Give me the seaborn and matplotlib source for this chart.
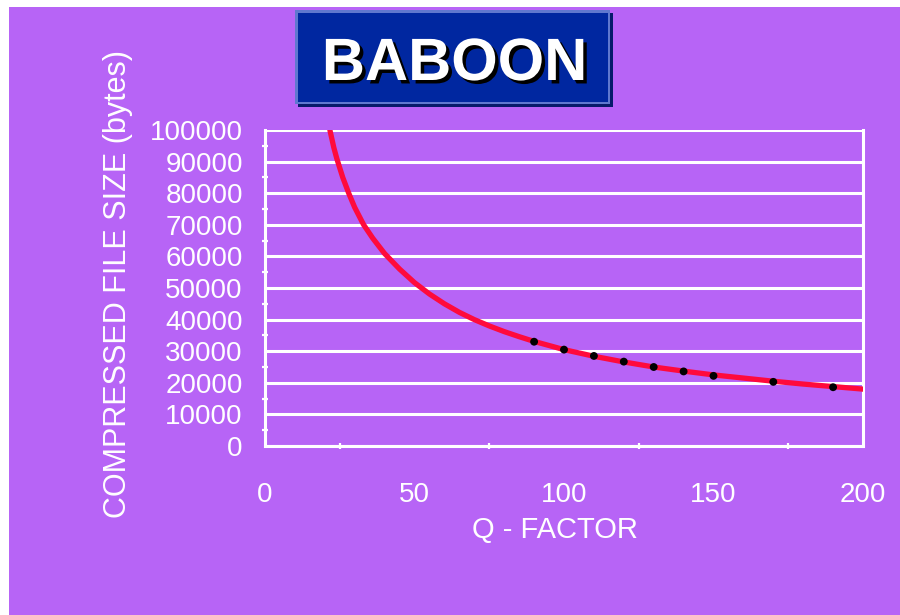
import matplotlib
matplotlib.use("Agg")
import matplotlib.pyplot as plt
import matplotlib.patheffects as pe
import seaborn as sns
import pandas as pd
from matplotlib.patches import Rectangle
from matplotlib.ticker import MultipleLocator

# ---- data ----
curve_q = [21.7, 23, 24, 26, 28, 30, 33, 36, 40, 45, 50, 55, 60, 65, 70, 75, 80, 85,
           90, 100, 110, 120, 130, 140, 150, 160, 170, 180, 190, 200]
curve_size = [100000, 94500, 91000, 85000, 80000, 75500, 70000, 65800, 60900, 56000,
              51700, 48100, 45000, 42300, 40000, 38000, 36200, 34600, 33100, 30500,
              28400, 26600, 25000, 23700, 22500, 21500, 20500, 19600, 18800, 18000]
point_q = [90, 100, 110, 120, 130, 140, 150, 170, 190]
point_size = [33000, 30500, 28500, 26700, 25000, 23600, 22200, 20300, 18600]
x_ticks = [0, 50, 100, 150, 200]
y_ticks = list(range(0, 100001, 10000))
title = "BABOON"
x_label = "Q - FACTOR"
y_label = "COMPRESSED FILE SIZE (bytes)"

W, H = 900, 615
PURPLE = "#b764f6"
FONT = ["Liberation Sans", "DejaVu Sans"]

sns.set_style("white")
plt.rcParams["font.family"] = FONT

fig = plt.figure(figsize=(W / 100, H / 100), dpi=100)
fig.patch.set_facecolor("white")

def fx(px):
    return px / W

def fy(py):
    return 1 - py / H

# purple background (white strip on the left and top)
fig.patches.append(Rectangle((fx(9), 0), 1 - fx(9), fy(7), transform=fig.transFigure,
                             facecolor=PURPLE, edgecolor="none", zorder=-10))

# title box
def box(x0, y0, x1, y1, color):
    fig.patches.append(Rectangle((fx(x0), fy(y1)), fx(x1) - fx(x0), fy(y0) - fy(y1),
                                 transform=fig.transFigure, facecolor=color,
                                 edgecolor="none", zorder=1))

box(298, 13, 613, 107, "#061a6a")
box(295, 10, 610, 104, "#5f78cf")
box(298, 13, 608, 102, "#0027a0")
fig.text(fx(454.5), fy(80), title, color="white", fontsize=43, fontweight="bold",
         ha="center", va="baseline", zorder=3,
         path_effects=[pe.withSimplePatchShadow(offset=(2.5, -2.5), shadow_rgbFace="black",
                                                alpha=1.0)])

ax = fig.add_axes([fx(265), fy(446), fx(863) - fx(265), fy(130) - fy(446)])
ax.set_zorder(5)
ax.patch.set_alpha(0)

df_curve = pd.DataFrame({"q": curve_q, "size": curve_size})
df_pts = pd.DataFrame({"q": point_q, "size": point_size})

sns.lineplot(data=df_curve, x="q", y="size", ax=ax, color="#ff0a3c", linewidth=3.8,
             zorder=3)
sns.scatterplot(data=df_pts, x="q", y="size", ax=ax, color="black", s=32,
                marker="o", edgecolor="none", zorder=4)

ax.set_xlim(0, 200)
ax.set_ylim(0, 100000)
ax.set_xticks(x_ticks)
ax.set_yticks(y_ticks)
ax.xaxis.set_minor_locator(MultipleLocator(25))
ax.yaxis.set_minor_locator(MultipleLocator(5000))
ax.set_xticklabels([str(v) for v in x_ticks])
ax.set_yticklabels([str(v) for v in y_ticks])

ax.grid(axis="y", which="major", color="white", linewidth=2.2, zorder=1)
ax.grid(axis="x", visible=False)
ax.set_axisbelow(True)

for side in ["left", "bottom", "right"]:
    ax.spines[side].set_visible(True)
    ax.spines[side].set_color("white")
    ax.spines[side].set_linewidth(2.2)
ax.spines["top"].set_visible(False)

ax.tick_params(axis="both", which="major", direction="inout", length=10, width=1.6,
               color="white", labelcolor="white", labelsize=20)
ax.tick_params(axis="both", which="minor", direction="inout", length=5, width=1.6,
               color="white")
ax.tick_params(axis="x", which="major", pad=21)
ax.tick_params(axis="y", which="major", pad=11)
ax.tick_params(axis="x", which="minor", bottom=True)
ax.tick_params(axis="y", which="minor", left=True)

ax.set_xlabel("")
ax.set_ylabel("")
fig.text(fx(555), fy(530), x_label, color="white", fontsize=21, ha="center", va="center")
fig.text(fx(118), fy(284), y_label, color="white", fontsize=22, ha="center",
         va="center", rotation=90)

fig.savefig("out.png", dpi=100, facecolor=fig.get_facecolor())
